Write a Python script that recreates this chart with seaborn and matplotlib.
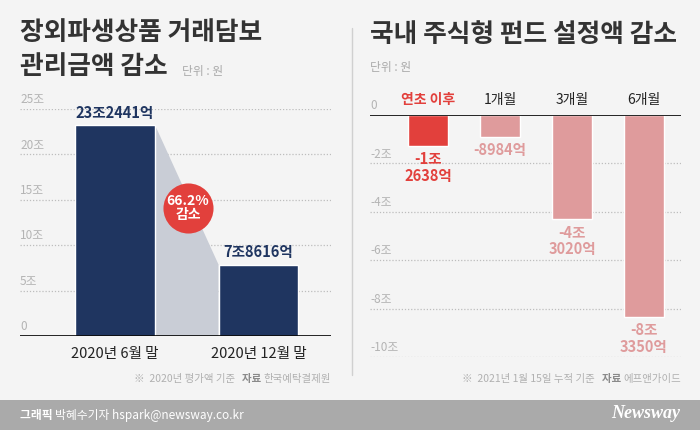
import numpy as np
import pandas as pd
import seaborn as sns
import matplotlib.pyplot as plt
from matplotlib.patches import Rectangle
from matplotlib.lines import Line2D
import matplotlib.transforms as mtransforms

# data (unit: 조원)
left_cats = ['2020년 6월 말', '2020년 12월 말']
left_vals = [23.2441, 7.8616]
left_labels = ['23조2441억', '7조8616억']
left_ticks = [0, 5, 10, 15, 20, 25]
left_ticklabels = ['0', '5조', '10조', '15조', '20조', '25조']

right_cats = ['연초 이후', '1개월', '3개월', '6개월']
right_vals = [-1.2638, -0.8984, -4.3020, -8.3350]
right_labels = ['-1조\n2638억', '-8984억', '-4조\n3020억', '-8조\n3350억']
right_ticks = [0, -2, -4, -6, -8, -10]
right_ticklabels = ['0', '-2조', '-4조', '-6조', '-8조', '-10조']

BG = '#f4f4f4'
NAVY = '#1f3560'
RED = '#e2403c'
PINK = '#df9b9c'
GRID = '#bdbdbd'
TICK = '#b4b4b4'

sns.set_theme(style='white')
plt.rcParams['font.family'] = ['Noto Sans CJK KR', 'DejaVu Sans']
plt.rcParams['axes.unicode_minus'] = False

W, H = 700, 430
fig = plt.figure(figsize=(7, 4.3), dpi=100, facecolor=BG)


def px_axes(x0, y0, x1, y1):
    # pixel box (top-left origin) -> axes
    ax = fig.add_axes([x0 / W, 1 - y1 / H, (x1 - x0) / W, (y1 - y0) / H])
    ax.set_facecolor('none')
    for s in ax.spines.values():
        s.set_visible(False)
    ax.set_xticks([])
    ax.set_yticks([])
    return ax


def grid_and_ticks(ax, ticks, labels):
    for t, lab in zip(ticks, labels):
        if t == 0:
            ax.axhline(0, color='black', lw=1.2, zorder=3)
        else:
            ax.axhline(t, color=GRID, lw=0.9, ls=(0, (1, 1.5)), zorder=0)
        off = mtransforms.offset_copy(ax.transData, fig=fig, x=0, y=2, units='points')
        ax.text(ax.get_xlim()[0], t, lab, transform=off, ha='left', va='bottom',
                fontsize=8.5, color=TICK, zorder=1)


# ---------------- left chart ----------------
axL = px_axes(20, 109, 331, 336)
dfL = pd.DataFrame({'cat': left_cats, 'val': left_vals})
bw = 0.557
sns.barplot(data=dfL, x='cat', y='val', hue='cat', palette=[NAVY, NAVY],
            width=bw, legend=False, ax=axL, zorder=2, saturation=1)
axL.set_xlim(-0.662, 1.505)
axL.set_ylim(0, 25)
axL.set_xlabel('')
axL.set_ylabel('')
axL.set_xticks([])
axL.set_yticks([])
grid_and_ticks(axL, left_ticks, left_ticklabels)

# gray connector between bars
axL.fill([bw / 2, 1 - bw / 2, 1 - bw / 2, bw / 2],
         [left_vals[0], left_vals[1], 0, 0], color='#c9cdd6', zorder=1.5, lw=0)

for i, (v, lab) in enumerate(zip(left_vals, left_labels)):
    axL.annotate(lab, (i, v), xytext=(0, 3), textcoords='offset points',
                 ha='center', va='bottom', fontsize=10.5, fontweight='bold',
                 color=NAVY)
    axL.annotate(left_cats[i], (i, 0), xytext=(0, -8), textcoords='offset points',
                 ha='center', va='top', fontsize=10.5,
                 color='#222222', annotation_clip=False)

drop = (1 - left_vals[1] / left_vals[0]) * 100
axL.scatter([0.509], [14.1], s=1300, color=RED, zorder=4, lw=0)
axL.text(0.509, 14.1, f'{drop:.1f}%\n감소', ha='center', va='center',
         fontsize=10, fontweight='bold', color='white', zorder=5, linespacing=1.05)

# ---------------- right chart ----------------
axR = px_axes(370, 115, 681, 357)
dfR = pd.DataFrame({'cat': right_cats, 'val': right_vals})
colsR = [RED, PINK, PINK, PINK]
sns.barplot(data=dfR, x='cat', y='val', hue='cat', palette=colsR,
            width=0.555, legend=False, ax=axR, zorder=2, saturation=1)
axR.set_xlim(-0.806, 3.514)
axR.set_ylim(-10, 0)
axR.set_xlabel('')
axR.set_ylabel('')
axR.set_xticks([])
axR.set_yticks([])
grid_and_ticks(axR, right_ticks, right_ticklabels)

for i, (v, lab) in enumerate(zip(right_vals, right_labels)):
    axR.annotate(lab, (i, v), xytext=(0, -4), textcoords='offset points',
                 ha='center', va='top', fontsize=10.5, color=colsR[i],
                 fontweight='bold', linespacing=1.05, annotation_clip=False)
    axR.annotate(right_cats[i], (i, 0), xytext=(0, 6), textcoords='offset points',
                 ha='center', va='bottom', fontsize=10,
                 color=RED if i == 0 else '#222222',
                 fontweight='bold' if i == 0 else 'normal', annotation_clip=False)

# ---------------- titles / notes ----------------
TITLE = dict(fontsize=18.5, fontweight='bold', color='#333333', va='center')
fig.text(20 / W, 1 - 33 / H, '장외파생상품 거래담보', **TITLE)
fig.text(20 / W, 1 - 67 / H, '관리금액 감소', **TITLE)
fig.text(182 / W, 1 - 72 / H, '단위 : 원', fontsize=8.5, color='#aaaaaa', va='center')
fig.text(370 / W, 1 - 35 / H, '국내 주식형 펀드 설정액 감소', **TITLE)
fig.text(370 / W, 1 - 67 / H, '단위 : 원', fontsize=8.5, color='#aaaaaa', va='center')

fig.add_artist(Line2D([352 / W, 352 / W], [1 - 28 / H, 1 - 375 / H], color='#d0d0d0', lw=1))

renderer = fig.canvas.get_renderer()


def chain_right(x_right, y, parts):
    x = x_right
    for txt, weight, color in reversed(parts):
        t = fig.text(x / W, 1 - y / H, txt, ha='right', va='center', fontsize=7.5,
                     fontweight=weight, color=color)
        x -= t.get_window_extent(renderer).width


def chain_left(x_left, y, parts, size):
    x = x_left
    for txt, weight, color in parts:
        t = fig.text(x / W, 1 - y / H, txt, ha='left', va='center', fontsize=size,
                     fontweight=weight, color=color)
        x += t.get_window_extent(renderer).width


chain_right(331, 379, [('※  2020년 평가액 기준   ', 'normal', '#b0b0b0'),
                       ('자료 ', 'bold', '#8a8a8a'),
                       ('한국예탁결제원', 'normal', '#b0b0b0')])
chain_right(681, 379, [('※  2021년 1월 15일 누적 기준   ', 'normal', '#b0b0b0'),
                       ('자료 ', 'bold', '#8a8a8a'),
                       ('에프앤가이드', 'normal', '#b0b0b0')])

# footer band
fig.add_artist(Rectangle((0, 0), 1, 30 / H, transform=fig.transFigure,
                         color='#aaaaaa', lw=0, zorder=0))
chain_left(20, 415, [('그래픽 ', 'bold', 'white'),
                     ('박혜수기자 hspark@newsway.co.kr', 'normal', 'white')], 8.5)
fig.text(680 / W, 1 - 413 / H, 'Newsway', ha='right', va='center', fontsize=13,
         fontweight='bold', fontstyle='italic', family='Liberation Serif', color='white')

fig.savefig('out.png', dpi=100, facecolor=BG)
